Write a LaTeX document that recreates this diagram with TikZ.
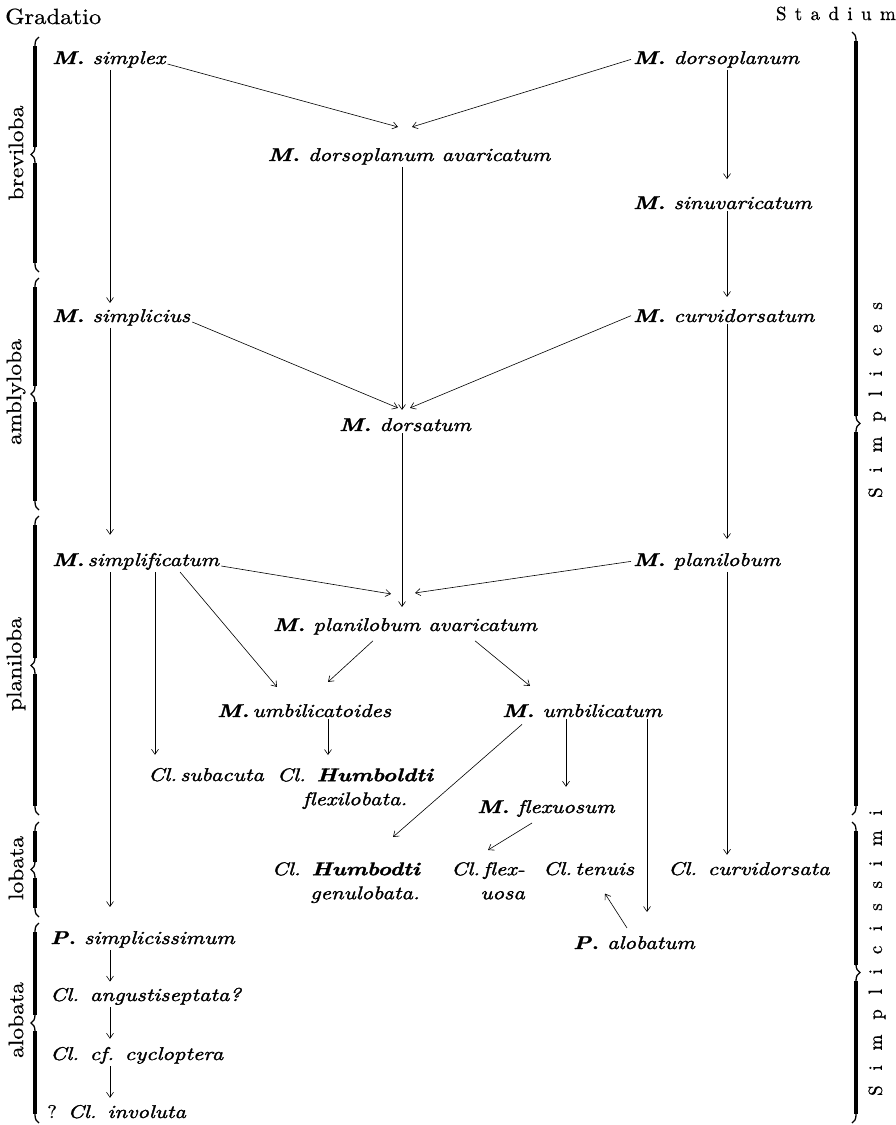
\documentclass[tikz,border=0pt]{standalone}
\usepackage{fontspec}
\usetikzlibrary{arrows.meta,decorations.pathreplacing,calc}
\newfontfamily\lmit{lmroman10}[Extension=.otf,UprightFont=*-italic,BoldFont=*-bolditalic,FakeStretch=1.22,FakeBold=1.6,Ligatures=CommonOff]
\newfontfamily\lmrm{lmroman10}[Extension=.otf,UprightFont=*-regular,BoldFont=*-bold,FakeStretch=1.12,FakeBold=0.6]
\newfontfamily\lmspA{lmroman10}[Extension=.otf,UprightFont=*-regular,BoldFont=*-bold,LetterSpace=44,FakeBold=0.8]
\newfontfamily\lmspB{lmroman10}[Extension=.otf,UprightFont=*-regular,BoldFont=*-bold,LetterSpace=78,FakeBold=0.8]
\newcommand\Bd[1]{{\bfseries #1}}
% left brace: top, bottom ; right brace: top, bottom
\newcommand\Lbr[2]{%
  \draw[brc] (39,#2) -- (39,#1);
  \draw[bar] (35,{#1+9}) -- (35,{(#1+#2)/2-8});
  \draw[bar] (35,{(#1+#2)/2+8}) -- (35,{#2-9});}
\newcommand\Rbr[2]{%
  \draw[brc] (852,#1) -- (852,#2);
  \draw[bar] (856,{#1+9}) -- (856,{(#1+#2)/2-8});
  \draw[bar] (856,{(#1+#2)/2+8}) -- (856,{#2-9});}
\begin{document}
\begin{tikzpicture}[x=1pt,y=-1pt,
  nm/.style={font=\lmit\fontsize{18.5}{24}\selectfont, inner sep=2pt},
  hd/.style={font=\lmrm\fontsize{22}{24}\selectfont, inner sep=0pt},
  gl/.style={font=\lmrm\fontsize{21}{22}\selectfont, inner sep=0pt, rotate=90},
  st/.style={font=\lmspB\fontsize{19}{21}\selectfont, inner sep=0pt, rotate=90},
  arr/.style={-{Straight Barb[length=5pt,width=7pt]}, line width=0.6pt},
  brc/.style={decorate, decoration={brace, amplitude=8pt, aspect=0.5}, line width=1.3pt},
  bar/.style={line width=3.4pt},
]
\useasboundingbox[fill=white] (0,0) rectangle (896,1125);

% headings
\node[hd, anchor=base west] (grad) at (5,24) {Gradatio};
\node[font=\lmspA\fontsize{19}{21}\selectfont, inner sep=0pt, anchor=base east] (stad) at (896,20) {Stadium};

% species
\node[nm, anchor=base west] (simplex) at (50,64) {\Bd{M.} simplex};
\node[nm, anchor=base west] (dorsopl) at (631,64) {\Bd{M.} dorsoplanum};
\node[nm, anchor=base] (davar) at (409,161) {\Bd{M.} dorsoplanum avaricatum};
\node[nm, anchor=base west] (sinuvar) at (631,209) {\Bd{M.} sinuvaricatum};
\node[nm, anchor=base west] (simplicius) at (50,322) {\Bd{M.} simplicius};
\node[nm, anchor=base west] (curvid) at (631,322) {\Bd{M.} curvidorsatum};
\node[nm, anchor=base] (dorsatum) at (405,431) {\Bd{M.} dorsatum};
\node[nm, anchor=base west] (simplif) at (50,566) {\Bd{M.}\,simplificatum};
\node[nm, anchor=base west] (planil) at (631,566) {\Bd{M.} planilobum};
\node[nm, anchor=base] (planavar) at (405,631) {\Bd{M.} planilobum avaricatum};
\node[nm, anchor=base west] (umbtoid) at (215,717) {\Bd{M.}\,umbilicatoides};
\node[nm, anchor=base west] (umbil) at (500,717) {\Bd{M.} umbilicatum};
\node[nm, anchor=base west] (subac) at (146,781) {Cl.\,subacuta};
\node[nm, anchor=north, align=center] (humbf) at (355,766) {Cl. \Bd{Humboldti}\\flexilobata.};
\node[nm, anchor=base west] (flexu) at (475,813) {\Bd{M.} flexuosum};
\node[nm, anchor=north east, align=right] (humbg) at (422,860) {Cl. \Bd{Humbodti}\\genulobata.};
\node[nm, anchor=north east, align=right] (clflex) at (527,860) {Cl.\,flex-\\uosa};
\node[nm, anchor=base west] (tenuis) at (541,875) {Cl.\,tenuis};
\node[nm, anchor=base west] (curvata) at (666,875) {Cl. curvidorsata};
\node[nm, anchor=base west] (alobat) at (571,949) {\Bd{P.} alobatum};
\node[nm, anchor=base west] (psimpl) at (48,944) {\Bd{P.} simplicissimum};
\node[nm, anchor=base west] (angus) at (48,1001) {Cl. angustiseptata?};
\node[nm, anchor=base west] (cyclo) at (48,1060) {Cl. cf. cycloptera};
\node[nm, anchor=base west] (involuta) at (45,1118) {{\lmrm ?} Cl. involuta};

% braces
\Lbr{37}{272}
\node[gl] (brev) at (16,153) {breviloba};
\Lbr{278}{510}
\node[gl] (ambl) at (16,392) {amblyloba};
\Lbr{516}{815}
\node[gl] (plan) at (16,664) {planiloba};
\Lbr{822}{917}
\node[gl] (loba) at (16,868) {lobata};
\Lbr{923}{1123}
\node[gl] (aloba) at (16,1020) {alobata};
\Rbr{32}{815}
\node[st] (simplices) at (877,400) {Simplices};
\Rbr{822}{1123}
\node[st] (simpliss) at (877,953) {Simplicissimi};

% columns
\coordinate (cL) at (110,0);
\coordinate (cS) at (155,0);
\coordinate (cU) at (328,0);
\coordinate (cM) at (402,0);
\coordinate (cF) at (566,0);
\coordinate (cA) at (647,0);
\coordinate (cR) at (727,0);

% connectors
\draw[arr, shorten >=4pt] (simplex.south -| cL) -- (simplicius.north -| cL);
\draw[arr, shorten >=16pt] (simplicius.south -| cL) -- (simplif.north -| cL);
\draw[arr, shorten >=22pt] (simplif.south -| cL) -- (psimpl.north -| cL);
\draw[arr, shorten >=4pt] (psimpl.south -| cL) -- (angus.north -| cL);
\draw[arr, shorten >=6pt] (angus.south -| cL) -- (cyclo.north -| cL);
\draw[arr, shorten >=5pt] (cyclo.south -| cL) -- (involuta.north -| cL);
\draw[arr] (simplex.base east) -- ([xshift=-11pt,yshift=19pt]davar.north);
\draw[arr] (dorsopl.west) -- ([xshift=3pt,yshift=19pt]davar.north);
\draw[arr, shorten >=6pt] (davar.south -| cM) -- (dorsatum.north -| cM);
\draw[arr, shorten >=15pt] (dorsopl.south -| cR) -- (sinuvar.north -| cR);
\draw[arr, shorten >=10pt] (sinuvar.south -| cR) -- (curvid.north -| cR);
\draw[arr, shorten >=12pt] (curvid.south -| cR) -- (planil.north -| cR);
\draw[arr, shorten >=5pt] (planil.south -| cR) -- (curvata.north -| cR);
\draw[arr] (simplicius.base east) -- ([xshift=-7pt,yshift=8pt]dorsatum.north);
\draw[arr] (curvid.west) -- ([xshift=5pt,yshift=8pt]dorsatum.north);
\draw[arr, shorten >=9pt] (dorsatum.south -| cM) -- (planavar.north -| cM);
\draw[arr] (simplif.base east) -- ([xshift=-14pt,yshift=22pt]planavar.north);
\draw[arr] (planil.west) -- ([xshift=10pt,yshift=23pt]planavar.north);
\draw[arr, shorten >=11pt] (simplif.south -| cS) -- (subac.north -| cS);
\draw[arr] ([xshift=130pt]simplif.south west) -- ([xshift=62pt,yshift=15pt]umbtoid.north west);
\draw[arr] ([xshift=-32pt,yshift=-4pt]planavar.south) -- ([xshift=113pt,yshift=20pt]umbtoid.north west);
\draw[arr] ([xshift=70pt,yshift=-4pt]planavar.south) -- ([xshift=30pt,yshift=16pt]umbil.north west);
\draw[arr, shorten >=11pt] (umbtoid.south -| cU) -- (humbf.north -| cU);
\draw[arr] ([xshift=22pt,yshift=-5pt]umbil.south west) -- ([xshift=-29pt,yshift=23pt]humbg.north east);
\draw[arr, shorten >=11pt] (umbil.south -| cF) -- (flexu.north -| cF);
\draw[arr, shorten >=22pt] (umbil.south -| cA) -- (alobat.north -| cA);
\draw[arr] ([xshift=57pt,yshift=-4pt]flexu.south west) -- ([xshift=-39pt,yshift=10pt]clflex.north east);
\draw[arr] ([xshift=56pt,yshift=6pt]alobat.north west) -- ([xshift=64pt,yshift=-16pt]tenuis.south west);
\end{tikzpicture}
\end{document}
